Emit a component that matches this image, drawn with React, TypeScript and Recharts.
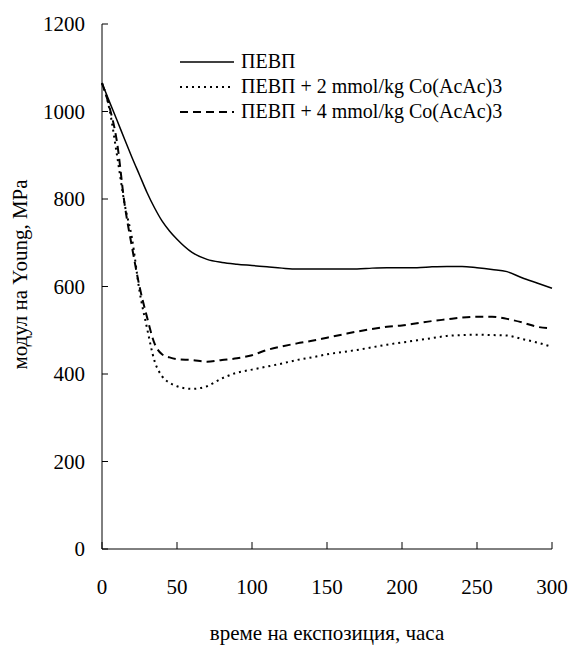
import { LineChart, Line, XAxis, YAxis, Label } from 'recharts'

const times = [0, 5, 10, 15, 20, 25, 30, 35, 40, 45, 50, 60, 70, 80, 90, 100, 110, 120, 130, 140, 150, 160, 170, 180, 190, 200, 210, 220, 230, 240, 250, 260, 270, 280, 290, 300]
const pevp = [1065, 1022, 980, 937, 895, 855, 815, 780, 750, 727, 708, 678, 662, 655, 651, 648, 645, 642, 640, 640, 640, 640, 640, 642, 643, 643, 643, 645, 646, 646, 643, 639, 634, 620, 608, 596]
const pevp2 = [1065, 1005, 900, 790, 710, 590, 505, 430, 395, 380, 372, 366, 372, 390, 403, 410, 417, 424, 432, 438, 445, 450, 455, 461, 467, 472, 477, 482, 487, 489, 490, 489, 488, 480, 472, 462]
const pevp4 = [1065, 1010, 930, 790, 690, 600, 530, 470, 445, 438, 434, 432, 428, 432, 436, 443, 455, 463, 470, 476, 483, 490, 497, 503, 508, 511, 516, 521, 525, 529, 531, 531, 526, 518, 508, 504]
const xTicks = [0, 50, 100, 150, 200, 250, 300]
const yTicks = [0, 200, 400, 600, 800, 1000, 1200]

const seriesNames = ['ПЕВП', 'ПЕВП + 2 mmol/kg Co(AcAc)3', 'ПЕВП + 4 mmol/kg Co(AcAc)3']
const dashes = ['', '2 4', '8 5']

const data = times.map((t, i) => ({ t, a: pevp[i], b: pevp2[i], c: pevp4[i] }))

const font = 'Liberation Serif'

// recharts' default tick text ignored the serif family, so draw the ticks ourselves
const XTick = ({ x, y, payload }: any) => (
  <text x={x} y={y} dy="0.71em" textAnchor="middle" fill="#000" fontSize={21} fontFamily={font}>
    {payload.value}
  </text>
)

const YTick = ({ x, y, payload }: any) => (
  <text x={x} y={y} dy="0.355em" textAnchor="end" fill="#000" fontSize={21} fontFamily={font}>
    {payload.value}
  </text>
)

// y title sits a bit above the plot centre in the original
const YTitle = ({ viewBox }: any) => {
  const cx = viewBox.x - 20
  const cy = viewBox.y + viewBox.height / 2 - 12
  return (
    <text x={cx} y={cy} transform={`rotate(-90 ${cx} ${cy})`} dy="0.355em" textAnchor="middle" fill="#000" fontSize={21} fontFamily={font}>
      модул на Young, MPa
    </text>
  )
}

export default function App() {
  return (
    <div style={{ position: 'absolute', left: 0, top: 0, width: 569, height: 646, background: '#fff', fontFamily: font }}>
      <LineChart width={569} height={646} data={data} margin={{ top: 24, right: 17, bottom: 0, left: 40 }}>
        <XAxis
          dataKey="t"
          type="number"
          domain={[0, 300]}
          ticks={xTicks}
          tickSize={-7}
          tickMargin={37}
          height={97}
          stroke="#000"
          tick={XTick}
        >
          <Label value="време на експозиция, часа" position="insideBottom" offset={6} style={{ fill: '#000', fontSize: 21, fontFamily: font }} />
        </XAxis>
        <YAxis
          type="number"
          domain={[0, 1200]}
          ticks={yTicks}
          tickSize={-6}
          tickMargin={23}
          width={62}
          stroke="#000"
          tick={YTick}
        >
          <Label content={YTitle} />
        </YAxis>
        <XAxis xAxisId="top" orientation="top" type="number" domain={[0, 300]} tick={false} tickLine={false} height={0} stroke="#888" />
        <YAxis yAxisId="right" orientation="right" type="number" domain={[0, 1200]} tick={false} tickLine={false} width={0} stroke="#888" />
        <Line dataKey="a" stroke="#000" strokeWidth={1.5} dot={false} isAnimationActive={false} type="monotone" />
        <Line dataKey="b" stroke="#000" strokeWidth={2} strokeDasharray={dashes[1]} dot={false} isAnimationActive={false} type="monotone" />
        <Line dataKey="c" stroke="#000" strokeWidth={2} strokeDasharray={dashes[2]} dot={false} isAnimationActive={false} type="monotone" />
      </LineChart>
      <div style={{ position: 'absolute', left: 180, top: 49, fontSize: 20, lineHeight: '25px', color: '#000' }}>
        {seriesNames.map((name, i) => (
          <div key={name} style={{ display: 'flex', alignItems: 'center' }}>
            <svg width={54} height={10} style={{ marginRight: 7 }}>
              <line x1={0} y1={5} x2={54} y2={5} stroke="#000" strokeWidth={i === 0 ? 1.5 : 2} strokeDasharray={dashes[i] || undefined} />
            </svg>
            <span>{name}</span>
          </div>
        ))}
      </div>
    </div>
  )
}
